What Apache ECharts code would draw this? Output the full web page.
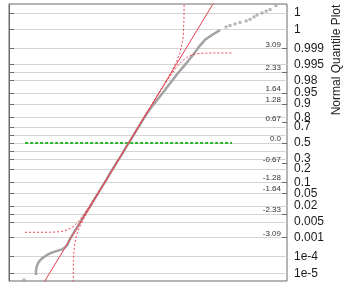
<!DOCTYPE html>
<html>
<head>
<meta charset="utf-8">
<script src="https://cdn.jsdelivr.net/npm/echarts/dist/echarts.min.js"></script>
<style>
html,body{margin:0;padding:0;background:#fff;}
#chart{width:351px;height:285px;}
</style>
</head>
<body>
<div id="chart"></div>
<script>
// Probability ticks (right axis) placed at their normal quantile
const probTickZ = [4.2649, 3.7190, 3.0902, 2.5758, 2.3263, 2.0537, 1.6449, 1.2816, 0.8416, 0.5244, 0.2533, 0, -0.2533, -0.5244, -0.8416, -1.2816, -1.6449, -2.0537, -2.3263, -2.5758, -3.0902, -3.7190, -4.2649];
const probTickLabels = ['1','1','0.999','0.995','','0.98','0.95','0.9','0.8','0.7','','0.5','','0.3','0.2','0.1','0.05','0.02','','0.005','0.001','1e-4','1e-5'];
// Normal quantile labels (inside)
const quantileTickZ = [3.09, 2.33, 1.64, 1.28, 0.67, 0, -0.67, -1.28, -1.64, -2.33, -3.09];
const quantileTickLabels = ['3.09','2.33','1.64','1.28','0.67','0.0','-0.67','-1.28','-1.64','-2.33','-3.09'];

// Data [value, normal quantile]
const grayCurve = [
[9.7,-4.32],[9.7,-4.19],[9.9,-4.06],[10.3,-3.96],[10.8,-3.88],[11.7,-3.79],[12.6,-3.73],[13.7,-3.66],[14.8,-3.61],[16.2,-3.56],[17.6,-3.52],[19.1,-3.48],[20.1,-3.42],[20.9,-3.34],[21.4,-3.24],[21.9,-3.14],[22.7,-3.02],[23.6,-2.89],[24.5,-2.76],[25.4,-2.63],[26.3,-2.48],[27.2,-2.35],[28.1,-2.22],[29.0,-2.09],[29.9,-1.96],[30.9,-1.81],[31.9,-1.66],[33.0,-1.50],[34.0,-1.35],[35.0,-1.21],[35.9,-1.06],[36.9,-0.91],[38.0,-0.75],[39.0,-0.60],[40.0,-0.46],[41.0,-0.31],[42.0,-0.15],[43.0,0.0],[44.0,0.14],[45.0,0.29],[46.0,0.44],[47.1,0.60],[48.1,0.75],[49.1,0.90],[50.2,1.05],[51.4,1.20],[52.8,1.35],[55.0,1.61],[57.2,1.87],[59.4,2.13],[61.7,2.39],[64.2,2.66],[66.5,2.92],[68.3,3.15],[70.5,3.38],[73.0,3.54],[75.9,3.70]
];
const graySparse = [[5.4,-4.48],[78.1,3.80],[79.5,3.85],[81.3,3.90],[83.1,3.95],[85.3,4.00],[86.7,4.05],[88.1,4.13],[89.2,4.19],[91.0,4.26],[92.5,4.32],[93.9,4.37],[96.0,4.50]];
const fitLine = [[9.65,-5],[76.35,5]];
const bandUpper = [[5.8,-2.92],[15,-2.918],[18,-2.903],[20,-2.872],[22,-2.799],[23,-2.738],[24,-2.657],[25,-2.561],[26,-2.449],[27,-2.327],[28,-2.197],[30,-1.92],[33,-1.486],[37,-0.894],[43,0.004],[49,0.906],[53,1.513],[56.2,1.979],[58.3,2.308],[60.4,2.684],[61.4,2.923],[62.4,3.33],[62.75,3.62],[62.95,4.1],[63.0,4.8]];
const bandLower = [[23.1,-4.8],[23.15,-3.85],[23.3,-3.62],[23.6,-3.33],[24.1,-3.085],[24.6,-2.925],[25.7,-2.684],[26.8,-2.486],[27.9,-2.308],[30,-1.979],[33,-1.513],[37,-0.906],[43,-0.004],[49,0.894],[53,1.486],[56,1.92],[58,2.197],[59,2.327],[60,2.449],[61,2.561],[62,2.657],[64,2.81],[66,2.89],[68,2.93],[70,2.945],[74,2.95],[80.6,2.95]];
const medianLine = [[5.8,0],[80.2,0]];

const chart = echarts.init(document.getElementById('chart'), null, {renderer:'canvas'});
const FONT = '"Liberation Sans", Arial, sans-serif';
const probLabeled = probTickZ.filter((z,i)=>probTickLabels[i] !== '');
function lookup(arr, labels, v){
  let best=0, bd=1e9;
  arr.forEach((z,i)=>{const d=Math.abs(z-v); if(d<bd){bd=d;best=i;}});
  return labels[best];
}
chart.setOption({
  animation:false,
  grid:{left:9,right:64,top:4,bottom:4,show:true,borderColor:'#6b6b6b',borderWidth:1,backgroundColor:'transparent'},
  xAxis:{type:'value',min:0,max:100,show:false},
  yAxis:[
    {type:'value',position:'right',min:-4.514,max:4.553,
     axisLine:{show:true,lineStyle:{color:'#6b6b6b',width:1}},
     axisTick:{show:true,length:5,lineStyle:{color:'#6b6b6b'},customValues:probTickZ},
     axisLabel:{show:true,margin:7,fontSize:12,fontFamily:FONT,color:'#1a1a1a',customValues:probLabeled,
       formatter:(v)=>lookup(probTickZ,probTickLabels,v)},
     splitLine:{show:true,lineStyle:{color:'#d4d4d4',width:1}}
    },
    {type:'value',position:'right',min:-4.514,max:4.553,
     axisLine:{show:false},
     axisTick:{show:true,inside:true,length:5,lineStyle:{color:'#6b6b6b'},customValues:quantileTickZ},
     axisLabel:{show:true,inside:true,margin:6,fontSize:8,fontFamily:FONT,color:'#333',verticalAlign:'bottom',customValues:quantileTickZ,
       formatter:(v)=>lookup(quantileTickZ,quantileTickLabels,v)},
     splitLine:{show:false}
    }
  ],
  graphic:[{type:'text',x:337,y:60,rotation:Math.PI/2,
    style:{text:'Normal Quantile Plot',font:'12px "Liberation Sans", Arial, sans-serif',fill:'#222',align:'center',verticalAlign:'middle'}}],
  series:[
    {type:'line',data:medianLine,symbol:'none',silent:true,z:2,
     lineStyle:{color:'#2db52d',width:2,type:[3,2]}},
    {type:'line',data:grayCurve,symbol:'none',silent:true,z:3,
     lineStyle:{color:'#a3a3a3',width:2.5}},
    {type:'scatter',data:graySparse,symbol:'rect',symbolSize:3,silent:true,z:3,
     itemStyle:{color:'#a3a3a3'}},
    {type:'line',data:bandUpper,symbol:'none',silent:true,z:4,clip:true,
     lineStyle:{color:'#e8404f',width:1,type:[2,2]}},
    {type:'line',data:bandLower,symbol:'none',silent:true,z:4,clip:true,
     lineStyle:{color:'#e8404f',width:1,type:[2,2]}},
    {type:'line',data:fitLine,symbol:'none',silent:true,z:5,clip:true,
     lineStyle:{color:'#e8404f',width:1}}
  ]
});
</script>
</body>
</html>
